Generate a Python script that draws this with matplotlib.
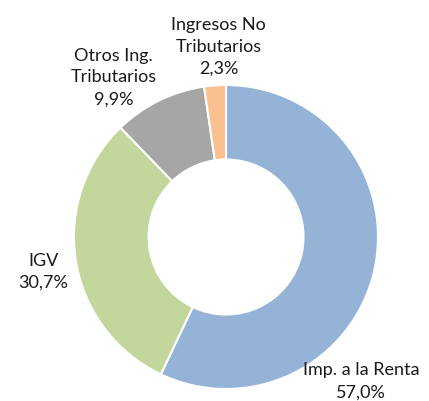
import matplotlib

matplotlib.use("Agg")

import matplotlib.pyplot as plt

# --- data ------------------------------------------------------------------

categories = ["Imp. a la Renta", "IGV", "Otros Ing.\nTributarios",
              "Ingresos No\nTributarios"]
shares = [57.0, 30.7, 9.9, 2.3]
colors = ["#95b3d7", "#c3d69b", "#a6a6a6", "#fac090"]

# label anchors (radius = 1 units, donut centred at origin)
label_pos = [(0.89, -0.95), (-1.20, -0.23), (-0.74, 1.05), (-0.05, 1.25)]

plt.rcParams["font.family"] = ["Lato", "DejaVu Sans"]

W, H, DPI = 429, 401, 100
CX, CY, R = 226, 237, 152  # donut centre / radius in pixels

fig = plt.figure(figsize=(W / DPI, H / DPI), dpi=DPI)
ax = fig.add_axes([0, 0, 1, 1])
ax.axis("off")

ax.pie(shares, colors=colors, startangle=90, counterclock=False,
       radius=1.0, wedgeprops=dict(width=0.49, edgecolor="white", lw=1.5))

for name, val, (x, y) in zip(categories, shares, label_pos):
    pct = f"{val:.1f}".replace(".", ",")
    ax.text(x, y, f"{name}\n{pct}%", ha="center", va="center", fontsize=13,
            color="#1a1a1a", linespacing=1.45)

ax.set_xlim(-CX / R, (W - CX) / R)
ax.set_ylim((CY - H) / R, CY / R)
ax.set_aspect("equal")

fig.savefig("out.png", dpi=DPI, facecolor="white")
